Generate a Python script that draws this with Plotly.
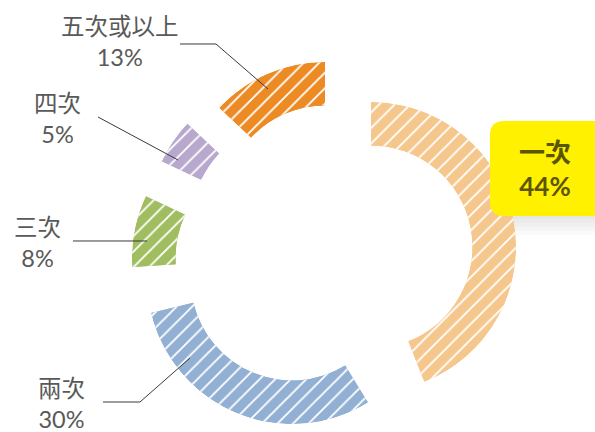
import plotly.graph_objects as go

# ---- data ----
categories = ["一次", "兩次", "三次", "四次", "五次或以上"]
values = [44, 30, 8, 5, 13]
pct_labels = ["44%", "30%", "8%", "5%", "13%"]
colors = ["#F5C78C", "#92AFD4", "#A0BD60", "#B8A8CE", "#EC8A24"]

# ---- layout / style parameters ----
W, H = 595, 432
R = 145            # outer radius in px
HOLE = 0.70        # inner radius as fraction of outer
centers = [(371, 247), (292, 279), (277, 258), (293, 223), (325, 207)]  # exploded slice centres (px)
rot_offsets = [0, -10, 0, 0, 0]   # per-slice angular offset (deg)

def px(x, y):
    return x / W, 1 - y / H

total = sum(values)
fig = go.Figure()
layout_polars = {}
start = 0.0
for i, v in enumerate(values):
    span = v / total * 360.0
    mid = start + span / 2
    start += span
    pname = "polar" if i == 0 else f"polar{i + 1}"
    cx, cy = centers[i]
    # solid base layer
    fig.add_trace(go.Barpolar(
        r=[1 - HOLE], base=[HOLE], theta=[mid], width=[span],
        marker=dict(color=colors[i], line=dict(width=0)),
        subplot=pname, hoverinfo="skip", showlegend=False, name=categories[i]))
    # striped layer
    fig.add_trace(go.Barpolar(
        r=[1 - HOLE], base=[HOLE], theta=[mid], width=[span],
        marker=dict(color=colors[i], line=dict(width=0),
                    pattern=dict(shape="/", fgcolor="white", fgopacity=1,
                                 size=11, solidity=0.17)),
        subplot=pname, hoverinfo="skip", showlegend=False, name=categories[i]))
    layout_polars[pname] = dict(
        domain=dict(x=[(cx - R) / W, (cx + R) / W], y=[(H - cy - R) / H, (H - cy + R) / H]),
        bgcolor="rgba(0,0,0,0)",
        radialaxis=dict(range=[0, 1], visible=False, showgrid=False),
        angularaxis=dict(rotation=90 - rot_offsets[i], direction="clockwise", visible=False,
                         showgrid=False, showline=False, showticklabels=False, ticks=""),
    )

shapes = []
line_style = dict(color="#3a3a3a", width=1)
leaders = [
    [(180, 44), (216, 44), (268, 89)],
    [(98, 117), (178, 160)],
    [(73, 241), (147, 241)],
    [(103, 402), (140, 402), (190, 358)],
]
for pts in leaders:
    path = "M " + " L ".join(f"{px(x, y)[0]:.5f},{px(x, y)[1]:.5f}" for x, y in pts)
    shapes.append(dict(type="path", xref="paper", yref="paper", path=path, line=line_style))

# soft shadow under highlighted box
for k in range(5):
    x0, y0 = px(494 + k, 150)
    x1, y1 = px(620, 219 + 4 * k)
    shapes.append(dict(type="rect", xref="paper", yref="paper", x0=x0, y0=y0, x1=x1, y1=y1,
                       fillcolor="#808080", opacity=0.045, line=dict(width=0), layer="below"))

# rounded yellow box
bx0, by0, bx1, by1, rr = 490, 121, 625, 216, 14
def P(x, y):
    a, b = px(x, y)
    return f"{a:.5f},{b:.5f}"
box_path = (f"M {P(bx0 + rr, by0)} L {P(bx1, by0)} L {P(bx1, by1)} L {P(bx0 + rr, by1)} "
            f"Q {P(bx0, by1)} {P(bx0, by1 - rr)} L {P(bx0, by0 + rr)} "
            f"Q {P(bx0, by0)} {P(bx0 + rr, by0)} Z")
shapes.append(dict(type="path", xref="paper", yref="paper", path=box_path,
                   fillcolor="#FFF100", line=dict(width=0)))

font_family = "Lato, 'Noto Sans CJK TC', 'Noto Sans', sans-serif"
label_pos = [(545, 169), (61, 403), (37, 242), (57, 118), (120, 42)]
annotations = []
for i, (x, y) in enumerate(label_pos):
    xx, yy = px(x, y)
    if i == 0:
        txt = f"<b>{categories[i]}<br>{pct_labels[i]}</b>"
        fnt = dict(family=font_family, size=26, color="#5B5500")
    else:
        txt = f"{categories[i]}<br>{pct_labels[i]}"
        fnt = dict(family=font_family, size=23.5, color="#595959")
    annotations.append(dict(x=xx, y=yy, xref="paper", yref="paper", text=txt,
                            showarrow=False, xanchor="center", yanchor="middle",
                            align="center", font=fnt))

fig.update_layout(
    width=W, height=H,
    margin=dict(l=0, r=0, t=0, b=0),
    paper_bgcolor="white", plot_bgcolor="white",
    shapes=shapes, annotations=annotations,
    showlegend=False,
    **layout_polars,
)

fig.write_html("out.html", config={"displayModeBar": False},
               post_script="document.body.style.margin='0';")
